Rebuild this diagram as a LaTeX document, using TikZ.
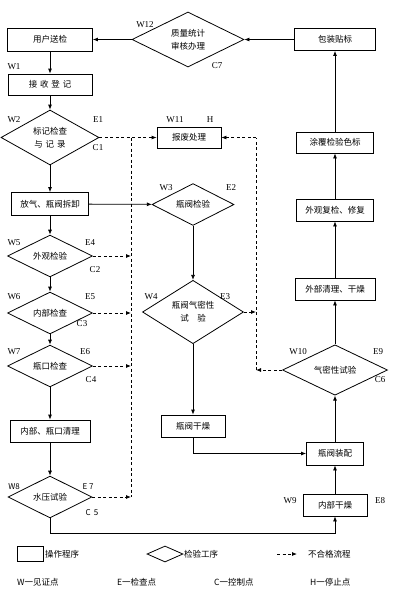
\documentclass[tikz,border=0pt]{standalone}
\usepackage{fontspec}
\newfontfamily\cjk{Noto Sans CJK SC}
\setmainfont{Liberation Serif}
\usetikzlibrary{shapes.geometric,arrows.meta}
\tikzset{
  box/.style={draw,line width=0.8pt,rectangle,inner sep=0pt,font=\cjk\fontsize{8.5}{11}\selectfont,align=center},
  dia/.style={draw,line width=0.8pt,diamond,inner sep=0pt,font=\cjk\fontsize{8.5}{13}\selectfont,align=center},
  lab/.style={font=\fontsize{9}{9}\selectfont,inner sep=0pt},
  slab/.style={font=\cjk\fontsize{8}{8}\selectfont,inner sep=0pt},
  leg/.style={font=\cjk\fontsize{8.5}{9}\selectfont,inner sep=0pt,anchor=west},
  flow/.style={line width=0.8pt,-{Latex[length=5pt,width=4pt]}},
  bad/.style={line width=0.8pt,dashed,dash pattern=on 3pt off 2.5pt,-{Latex[length=5pt,width=4pt]}},
  badline/.style={line width=0.8pt,dashed,dash pattern=on 3pt off 2.5pt},
}
\begin{document}
\begin{tikzpicture}[x=1pt,y=-1pt]
\useasboundingbox (0,0) rectangle (412,608);
% left column
\node[box,minimum width=85,minimum height=23] (yh) at (50,39.5) {用户送检};
\node[dia,minimum width=112,minimum height=55] (zl) at (188,39.5) {质量统计\\审核办理};
\node[box,minimum width=81,minimum height=22] (bz) at (335,39.5) {包装贴标};
\node[box,minimum width=84,minimum height=21] (js) at (50,84.5) {接\,\,收\,\,登\,\,记};
\node[dia,minimum width=98,minimum height=55] (bj) at (50,137.5) {标记检查\\与\,\,记\,\,录};
\node[box,minimum width=64,minimum height=21] (bf) at (189,137.5) {报废处理};
\node[box,minimum width=77,minimum height=23] (fq) at (50,204) {放气、瓶阀拆卸};
\node[dia,minimum width=82,minimum height=37] (fj) at (193,204.5) {瓶阀检验};
\node[dia,minimum width=101,minimum height=54] (fm) at (193,312) {瓶阀气密性\\试\quad 验};
\node[dia,minimum width=85,minimum height=32] (wg) at (50,256) {外观检验};
\node[dia,minimum width=85,minimum height=32] (nb) at (50,313) {内部检查};
\node[dia,minimum width=85,minimum height=32] (pk) at (50,366) {瓶口检查};
\node[box,minimum width=80,minimum height=22] (ql) at (50,431) {内部、瓶口清理};
\node[dia,minimum width=84,minimum height=34] (sy) at (50,497) {水压试验};
\node[box,minimum width=64,minimum height=22] (fg) at (193,426) {瓶阀干燥};
\node[box,minimum width=57,minimum height=23] (zp) at (335,453.5) {瓶阀装配};
\node[box,minimum width=64,minimum height=22] (ng) at (335,505) {内部干燥};
\node[dia,minimum width=105,minimum height=48] (qm) at (335,370) {气密性试验};
\node[box,minimum width=80,minimum height=22] (wq) at (335,289) {外部清理、干燥};
\node[box,minimum width=77,minimum height=22] (fx) at (335,210) {外观复检、修复};
\node[box,minimum width=77,minimum height=21] (tf) at (335,142.5) {涂覆检验色标};
% labels
\node[lab] at (145,25) {W12};
\node[lab] at (217,66) {C7};
\node[lab] at (14,67) {W1};
\node[lab] at (14,120) {W2};
\node[lab] at (98,120) {E1};
\node[lab] at (98,148) {C1};
\node[lab] at (175,120) {W11};
\node[lab] at (210,120) {H};
\node[lab] at (166,188) {W3};
\node[lab] at (231,188) {E2};
\node[lab] at (14,243) {W5};
\node[lab] at (90,243) {E4};
\node[lab] at (95,270) {C2};
\node[lab] at (14,297) {W6};
\node[lab] at (90,297) {E5};
\node[lab] at (82,324) {C3};
\node[lab] at (151,297) {W4};
\node[lab] at (225,297) {E3};
\node[lab] at (14,352) {W7};
\node[lab] at (85,352) {E6};
\node[lab] at (91,380) {C4};
\node[slab] at (14,487) {W8};
\node[slab] at (88,487) {E 7};
\node[slab] at (92,513) {C\, 5};
\node[lab] at (298,352) {W10};
\node[lab] at (378,352) {E9};
\node[lab] at (380,380) {C6};
\node[lab] at (290,501) {W9};
\node[lab] at (380,501) {E8};
% main flow
\draw[flow] (bz) -- (zl);
\draw[flow] (zl) -- (yh);
\draw[flow] (yh) -- (js);
\draw[flow] (js) -- (bj);
\draw[flow] (bj) -- (fq);
\draw[flow] (fq) -- (wg);
\draw[flow] (wg) -- (nb);
\draw[flow] (nb) -- (pk);
\draw[flow] (pk) -- (ql);
\draw[flow] (ql) -- (sy);
\draw[flow] (sy.south) -- ++(0,15) -| (ng.south);
\draw[flow] (ng) -- (zp);
\draw[flow] (zp) -- (qm);
\draw[flow] (qm) -- (wq);
\draw[flow] (wq) -- (fx);
\draw[flow] (fx) -- (tf);
\draw[flow] (tf) -- (bz);
\draw[flow] (fq) -- (fj);
\draw[flow] (fj) -- (fm);
\draw[flow] (fm) -- (fg);
\draw[flow] (fg.south) |- (zp.west);
% reject flow
\coordinate (d1t) at (131,137.5);
\coordinate (d1b) at (131,497);
\coordinate (d2t) at (256,137.5);
\coordinate (d2b) at (256,370);
\draw[bad] (bj.east) -- (bf.west);
\draw[badline] (d1t) -- (d1b);
\draw[bad] (wg.east) -- (wg.east -| d1t);
\draw[bad] (nb.east) -- (nb.east -| d1t);
\draw[bad] (pk.east) -- (pk.east -| d1t);
\draw[bad] (sy.east) -- (d1b);
\draw[bad] (qm.west) -- (d2b);
\draw[badline] (d2b) -- (d2t);
\draw[bad] (d2t) -- (bf.east);
\draw[bad] (fm.east) -- (fm.east -| d2t);
% legend
\node[draw,line width=0.8pt,minimum width=26,minimum height=15,inner sep=0pt] (lr) at (30,553.5) {};
\node[leg] (lrt) at (45,554) {操作程序};
\node[draw,line width=0.8pt,diamond,minimum width=36,minimum height=16,inner sep=0pt] (ld) at (165,554) {};
\node[leg] (ldt) at (184,554) {检验工序};
\coordinate (la) at (277,554);
\coordinate (lb) at (297,554);
\draw[bad] (la) -- (lb);
\node[leg] (lat) at (308,554) {不合格流程};
\node[leg] (lw) at (17,582) {W一见证点};
\node[leg] (le) at (117,582) {E一检查点};
\node[leg] (lc) at (214,582) {C一控制点};
\node[leg] (lh) at (310,582) {H一停止点};
\end{tikzpicture}
\end{document}
